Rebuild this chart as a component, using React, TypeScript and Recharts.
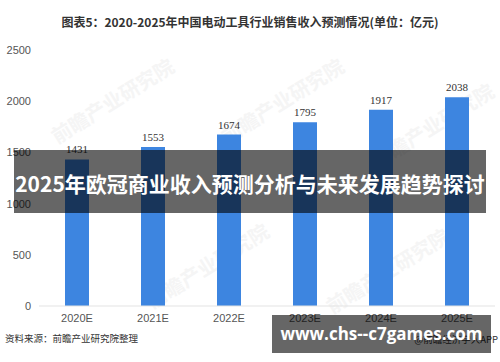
import { BarChart, Bar, XAxis, YAxis, LabelList } from 'recharts';

const years = ['2020E', '2021E', '2022E', '2023E', '2024E', '2025E'];
const revenue = [1431, 1553, 1674, 1795, 1917, 2038];
const yTicks = [0, 500, 1000, 1500, 2000, 2500];

const data = years.map((year, i) => ({ year, revenue: revenue[i] }));

const watermarks = [
  { x: 45, y: 125 },
  { x: 215, y: 125 },
  { x: 140, y: 290 },
  { x: 365, y: 150 },
  { x: 320, y: 295 },
];

export default function App() {
  return (
    <div
      style={{
        position: 'absolute',
        left: 0,
        top: 0,
        width: 500,
        height: 362,
        background: '#fff',
        overflow: 'hidden',
        fontFamily: '"Noto Sans CJK SC", "Noto Sans", sans-serif',
      }}
    >
      {/* faint watermarks behind the chart */}
      {watermarks.map((w, i) => (
        <div
          key={i}
          style={{
            position: 'absolute',
            left: w.x,
            top: w.y,
            transform: 'rotate(-32deg)',
            transformOrigin: 'left top',
            color: '#f5f5f5',
            fontSize: 20,
            fontWeight: 700,
            whiteSpace: 'nowrap',
          }}
        >
          前瞻产业研究院
        </div>
      ))}

      <div
        style={{
          position: 'absolute',
          top: 13,
          left: 0,
          width: 500,
          textAlign: 'center',
          fontSize: 12,
          fontWeight: 700,
          color: '#333',
        }}
      >
        图表5：2020-2025年中国电动工具行业销售收入预测情况(单位：亿元)
      </div>

      <div style={{ position: 'absolute', left: 0, top: 0 }}>
        <BarChart
          width={500}
          height={362}
          data={data}
          margin={{ top: 50, right: 5, bottom: 26, left: 0 }}
        >
          <XAxis
            dataKey="year"
            tickLine={false}
            axisLine={{ stroke: '#e3e3e3' }}
            tick={{ fill: '#555', fontSize: 11, fontFamily: '"Liberation Sans", Arial, sans-serif' }}
            height={30}
          />
          <YAxis
            width={39}
            domain={[0, 2500]}
            ticks={yTicks}
            tickLine={false}
            axisLine={false}
            tick={{ fill: '#555', fontSize: 11, fontFamily: '"Liberation Sans", Arial, sans-serif' }}
          />
          <Bar dataKey="revenue" fill="#3d85e0" barSize={24} isAnimationActive={false}>
            <LabelList
              dataKey="revenue"
              position="top"
              offset={6}
              fill="#333"
              fontSize={11}
              fontFamily='"Liberation Serif", serif'
            />
          </Bar>
        </BarChart>
      </div>

      <div
        style={{
          position: 'absolute',
          left: 5,
          top: 331,
          fontSize: 9.5,
          color: '#333',
          whiteSpace: 'nowrap',
        }}
      >
        资料来源：前瞻产业研究院整理
      </div>
      <div
        style={{
          position: 'absolute',
          right: 2,
          top: 332,
          fontSize: 9.5,
          color: '#333',
          whiteSpace: 'nowrap',
        }}
      >
        @前瞻经济学人APP
      </div>

      {/* overlay banners */}
      <div
        style={{
          position: 'absolute',
          left: 14,
          top: 150,
          width: 472,
          height: 63,
          background: 'rgba(0,0,0,0.6)',
          color: '#fff',
          fontSize: 21,
          fontWeight: 700,
          textAlign: 'center',
          lineHeight: '66px',
          whiteSpace: 'nowrap',
        }}
      >
        2025年欧冠商业收入预测分析与未来发展趋势探讨
      </div>
      <div
        style={{
          position: 'absolute',
          left: 272,
          top: 315,
          width: 219,
          height: 38,
          background: 'rgba(0,0,0,0.6)',
          color: '#fff',
          fontSize: 17,
          fontWeight: 700,
          textAlign: 'center',
          lineHeight: '38px',
          whiteSpace: 'nowrap',
          fontFamily: '"Open Sans", "Noto Sans", sans-serif',
        }}
      >
        www.chs--c7games.com
      </div>
    </div>
  );
}
